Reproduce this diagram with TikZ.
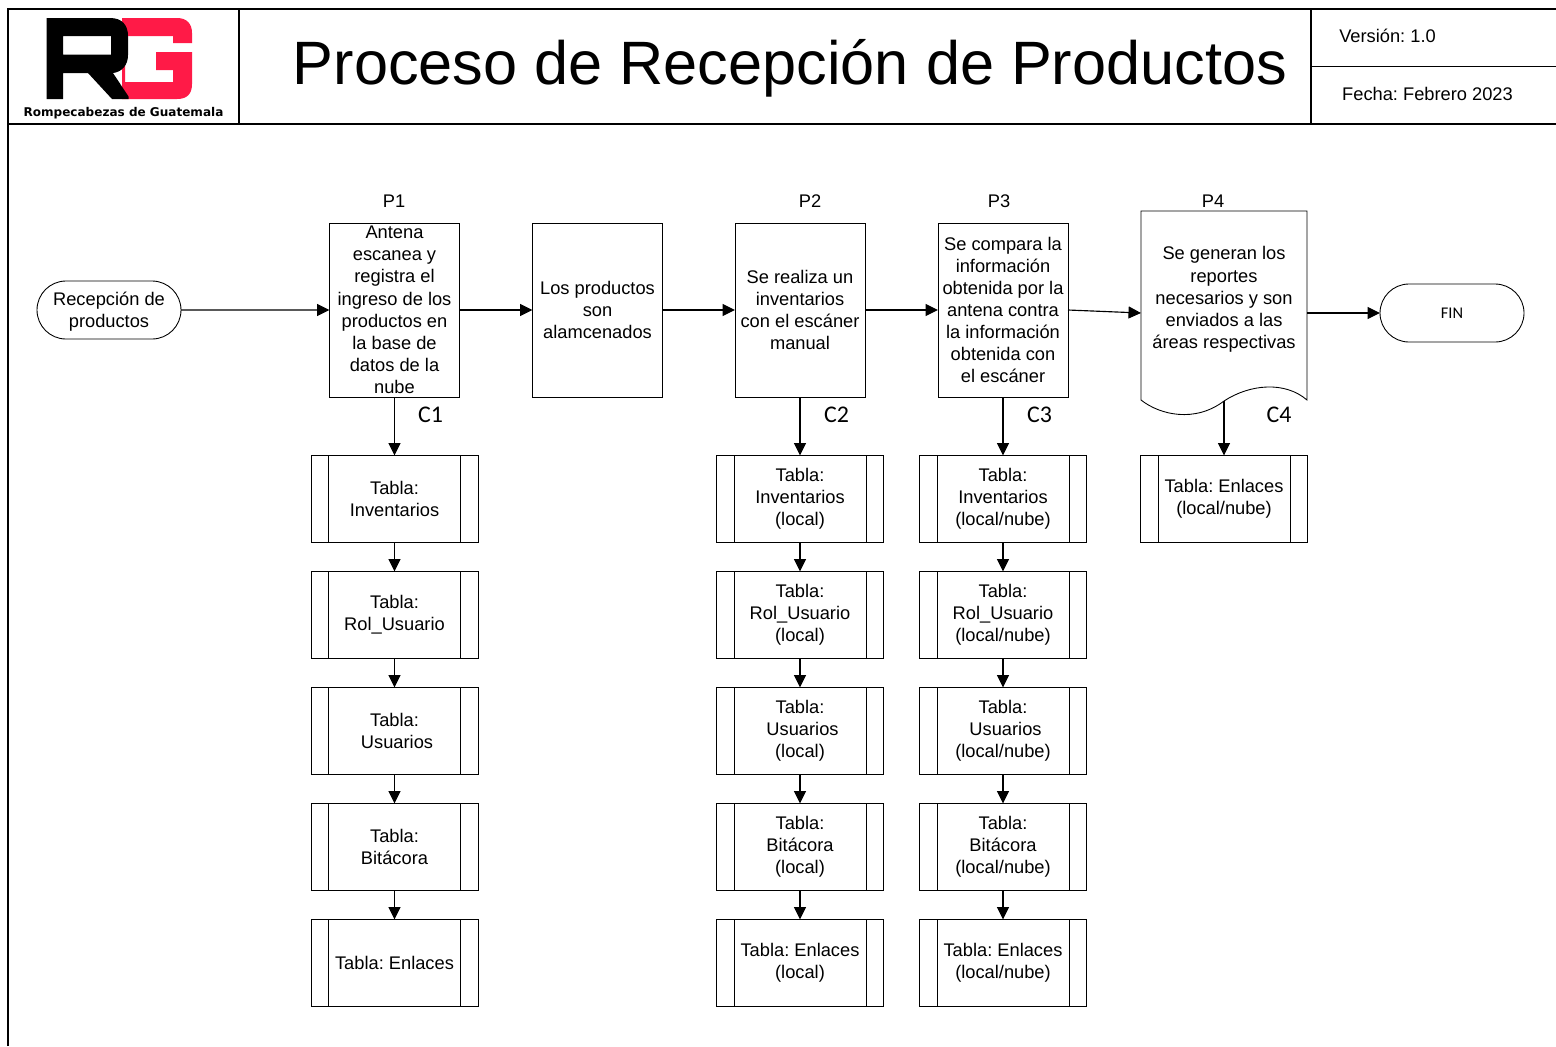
\documentclass[tikz,border=0pt]{standalone}
\usepackage{fontspec}
\setmainfont{Liberation Sans}
\newfontfamily\calibrifont{Carlito}
\newfontfamily\logofont{DejaVu Sans}
\usepackage{xcolor}
\usepackage{tikz}
\usetikzlibrary{arrows.meta, shapes.misc}

\definecolor{logored}{HTML}{FF1A47}
\frenchspacing

\begin{document}
\begin{tikzpicture}[
    basefont/.style={font=\fontsize{10.4}{12.6}\selectfont, align=center, inner sep=0pt, outer sep=0pt},
    label/.style={basefont},
    cnum/.style={font=\calibrifont\fontsize{13.6}{15}\selectfont, inner sep=0pt},
    terminal/.style={basefont, rounded rectangle, draw, line width=0.5pt, minimum width=2.88cm, minimum height=1.16cm},
    process/.style={basefont, rectangle, draw, line width=0.5pt, minimum width=2.6cm, minimum height=3.48cm},
    subproc/.style={basefont, rectangle, draw, line width=0.5pt, minimum width=3.34cm, minimum height=1.73cm,
        path picture={
            \draw[line width=0.5pt] ([xshift=0.35cm]path picture bounding box.north west) -- ([xshift=0.35cm]path picture bounding box.south west);
            \draw[line width=0.5pt] ([xshift=-0.35cm]path picture bounding box.north east) -- ([xshift=-0.35cm]path picture bounding box.south east);
        }},
    docbox/.style={basefont, rectangle, minimum width=3.32cm, minimum height=4.08cm},
    flow/.style={-{Triangle[length=0.25cm, width=0.24cm]}, line width=0.65pt},
    frame/.style={line width=0.75pt}
]
\useasboundingbox (0,0) rectangle (31.12,-20.92);

% header
\draw[frame] (0.16,-20.92) -- (0.16,-0.18) -- (31.12,-0.18);
\draw[frame] (0.16,-2.48) -- (31.12,-2.48);
\draw[frame] (4.78,-0.18) -- (4.78,-2.48);
\draw[frame] (26.22,-0.18) -- (26.22,-2.48);
\draw[frame] (26.22,-1.33) -- (31.12,-1.33);

% logo
\fill[logored] (2.44,-0.36) -- (3.54,-0.36) .. controls (3.74,-0.36) and (3.84,-0.48) .. (3.84,-0.66)
    -- (3.84,-0.86) -- (3.46,-0.86) -- (3.46,-0.72) -- (2.5,-0.72) -- (2.5,-1.64) -- (3.46,-1.64)
    -- (3.46,-1.4) -- (3.12,-1.4) -- (3.12,-1.04) -- (3.84,-1.04) -- (3.84,-1.68)
    .. controls (3.84,-1.88) and (3.74,-1.98) .. (3.54,-1.98) -- (2.44,-1.98) -- cycle;
\fill[black, even odd rule] (0.93,-0.36) -- (2.2,-0.36) .. controls (2.44,-0.36) and (2.56,-0.5) .. (2.56,-0.72)
    -- (2.56,-1.1) .. controls (2.56,-1.3) and (2.44,-1.44) .. (2.26,-1.46)
    -- (2.57,-1.93) -- (2.57,-1.98) -- (2.24,-1.98) -- (1.76,-1.46) -- (1.26,-1.46) -- (1.26,-1.98) -- (0.93,-1.98) -- cycle
    (1.26,-0.72) -- (1.26,-1.09) -- (2.22,-1.09) -- (2.22,-0.72) -- cycle;
\node[font=\logofont\bfseries\fontsize{6.85}{9}\selectfont, inner sep=0pt] (logotext) at (2.47,-2.26) {Rompecabezas de Guatemala};

% title
\node[font=\fontsize{34.85}{40}\selectfont, inner sep=0pt] (title) at (15.8,-1.36) {Proceso de Recepción de Productos};
\node[label] (version) at (27.75,-0.72) {Versión: 1.0};
\node[label] (fecha) at (28.55,-1.88) {Fecha: Febrero 2023};

% process row
\node[terminal] (start) at (2.18,-6.2) {\rule{0pt}{10pt}Recepción de\\productos};
\node[process] (p1) at (7.89,-6.2) {Antena\\escanea y\\registra el\\ingreso de los\\productos en\\la base de\\datos de la\\nube};
\node[process] (store) at (11.95,-6.2) {Los productos\\son\\alamcenados};
\node[process] (p2) at (16,-6.2) {Se realiza un\\inventarios\\con el escáner\\manual};
\node[process] (p3) at (20.06,-6.2) {Se compara la\\información\\obtenida por la\\antena contra\\la información\\obtenida con\\el escáner};
\node[docbox] (p4) at (24.48,-6.26) {};
\node[label] (p4text) at (24.48,-5.99) {Se generan los\\reportes\\necesarios y son\\enviados a las\\áreas respectivas};
\node[terminal, font=\calibrifont\fontsize{9.3}{11}\selectfont] (fin) at (29.04,-6.26) {FIN};

\draw[line width=0.5pt] (p4.north west) -- (p4.north east) -- (26.14,-8)
    .. controls (25.7,-7.62) and (25,-7.68) .. (24.48,-8.02)
    .. controls (23.9,-8.46) and (23.2,-8.3) .. (22.82,-8) -- cycle;
\coordinate (p4out) at (24.48,-8.02);

\node[label] (lp1) at (7.88,-4.03) {P1};
\node[label] (lp2) at (16.2,-4.03) {P2};
\node[label] (lp3) at (19.98,-4.03) {P3};
\node[label] (lp4) at (24.26,-4.03) {P4};
\node[cnum] (c1) at (8.61,-8.3) {C1};
\node[cnum] (c2) at (16.73,-8.3) {C2};
\node[cnum] (c3) at (20.79,-8.3) {C3};
\node[cnum] (c4) at (25.58,-8.3) {C4};

% tables P1
\node[subproc] (a1) at (7.89,-9.975) {Tabla:\\Inventarios};
\node[subproc] (a2) at (7.89,-12.295) {Tabla:\\Rol\_Usuario};
\node[subproc] (a3) at (7.89,-14.615) {Tabla:\\~Usuarios};
\node[subproc] (a4) at (7.89,-16.935) {Tabla:\\Bitácora};
\node[subproc] (a5) at (7.89,-19.255) {Tabla: Enlaces};

% tables P2
\node[subproc] (b1) at (16,-9.975) {Tabla:\\Inventarios\\(local)};
\node[subproc] (b2) at (16,-12.295) {Tabla:\\Rol\_Usuario\\(local)};
\node[subproc] (b3) at (16,-14.615) {Tabla:\\~Usuarios\\(local)};
\node[subproc] (b4) at (16,-16.935) {Tabla:\\Bitácora\\(local)};
\node[subproc] (b5) at (16,-19.255) {Tabla: Enlaces\\(local)};

% tables P3
\node[subproc] (d1) at (20.06,-9.975) {Tabla:\\Inventarios\\(local/nube)};
\node[subproc] (d2) at (20.06,-12.295) {Tabla:\\Rol\_Usuario\\(local/nube)};
\node[subproc] (d3) at (20.06,-14.615) {Tabla:\\~Usuarios\\(local/nube)};
\node[subproc] (d4) at (20.06,-16.935) {Tabla:\\Bitácora\\(local/nube)};
\node[subproc] (d5) at (20.06,-19.255) {Tabla: Enlaces\\(local/nube)};

% tables P4
\node[subproc] (e1) at (24.48,-9.975) {Tabla: Enlaces\\(local/nube)};

% connectors
\draw[flow] (start) -- (p1);
\draw[flow] (p1) -- (store);
\draw[flow] (store) -- (p2);
\draw[flow] (p2) -- (p3);
\draw[flow] (p3.east) -- (p4.west);
\draw[flow] (p4.east) -- (fin.west);

\draw[flow] (p1) -- (a1);
\draw[flow] (a1) -- (a2);
\draw[flow] (a2) -- (a3);
\draw[flow] (a3) -- (a4);
\draw[flow] (a4) -- (a5);

\draw[flow] (p2) -- (b1);
\draw[flow] (b1) -- (b2);
\draw[flow] (b2) -- (b3);
\draw[flow] (b3) -- (b4);
\draw[flow] (b4) -- (b5);

\draw[flow] (p3) -- (d1);
\draw[flow] (d1) -- (d2);
\draw[flow] (d2) -- (d3);
\draw[flow] (d3) -- (d4);
\draw[flow] (d4) -- (d5);

\draw[flow] (p4out) -- (e1.north);

\end{tikzpicture}
\end{document}
